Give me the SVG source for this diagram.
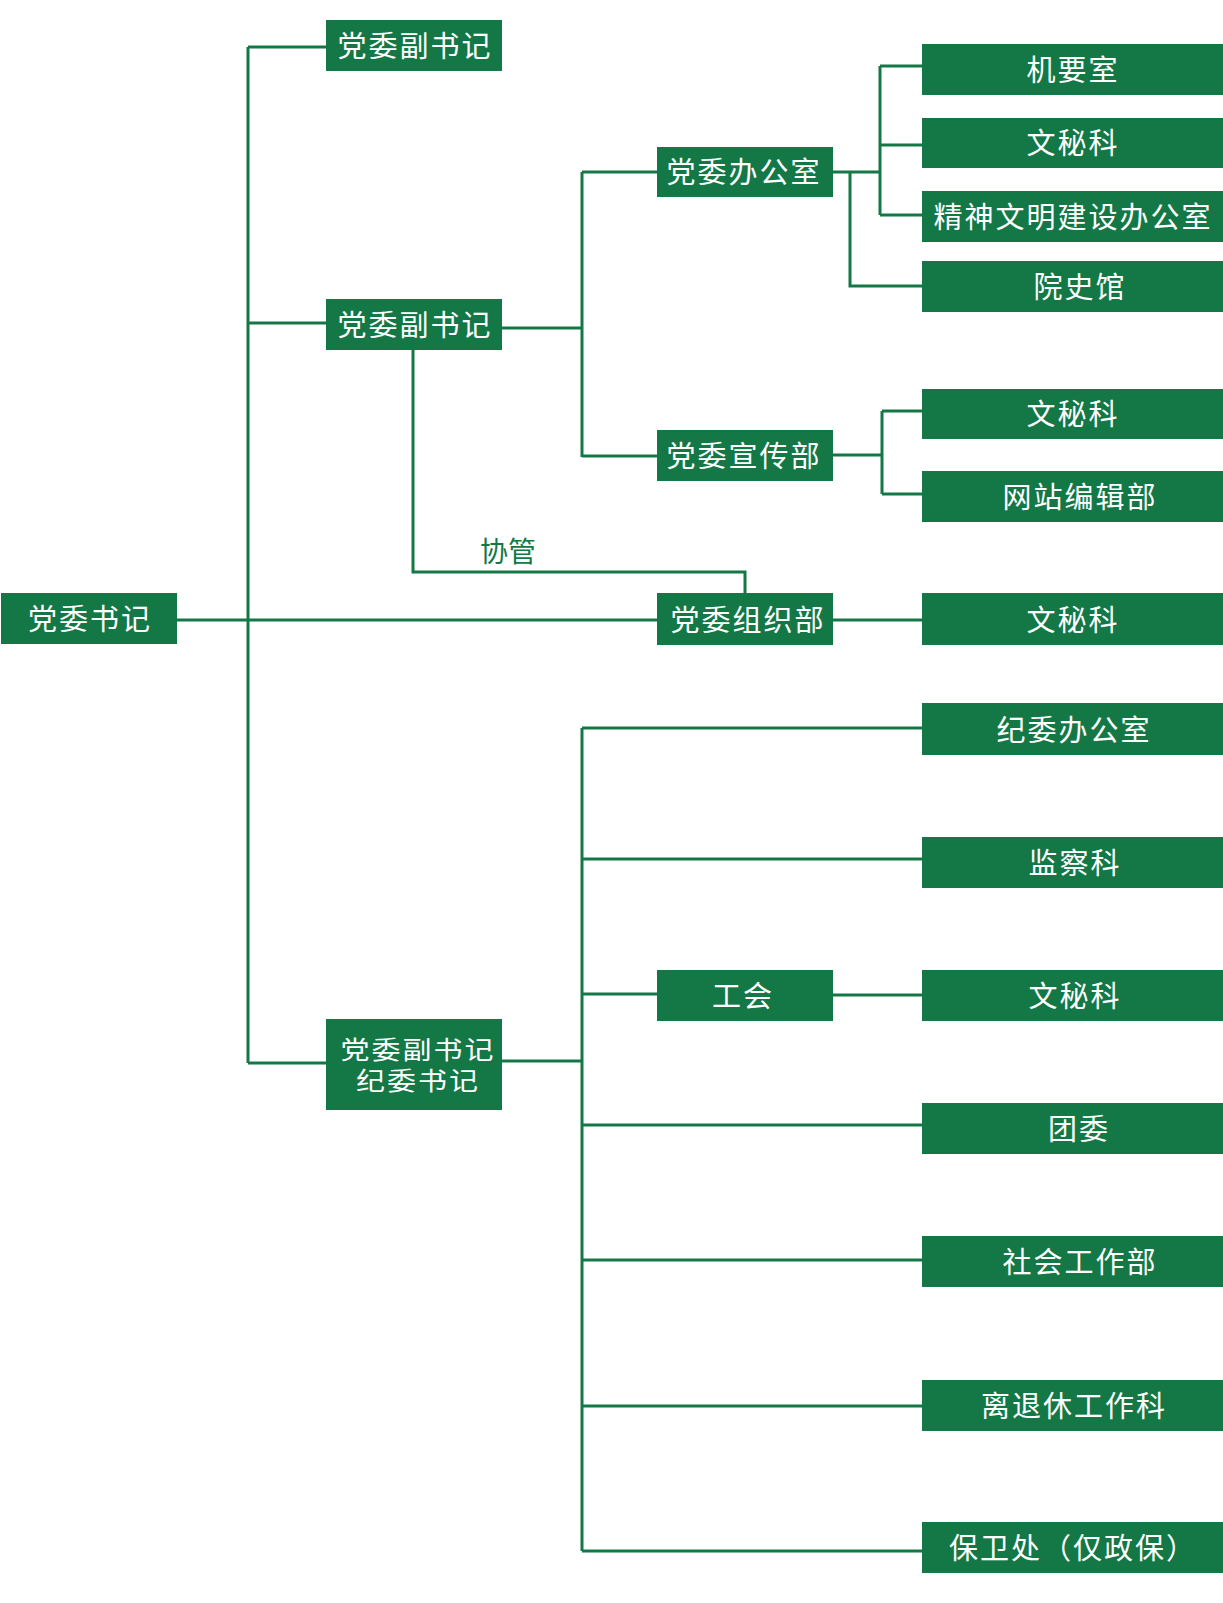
<svg xmlns="http://www.w3.org/2000/svg" width="1223" height="1603" viewBox="0 0 1223 1603">
<style>
.box{fill:#147846}
.t{fill:#ffffff;font-family:"Noto Sans CJK SC","Noto Sans",sans-serif;font-size:29px;letter-spacing:2px;text-anchor:middle}
.lbl{fill:#147846;font-family:"Noto Sans CJK SC","Noto Sans",sans-serif;font-size:28px;text-anchor:middle}
.c{fill:none;stroke:#147846;stroke-width:3}
</style>
<rect width="1223" height="1603" fill="#ffffff"/>
<g id="connectors" class="c">
<path d="M177 620 H657"/>
<path d="M248 47 V1063"/>
<path d="M248 47 H326"/>
<path d="M248 323 H326"/>
<path d="M248 1063 H326"/>
<path d="M502 328 H582"/>
<path d="M582 172 V457"/>
<path d="M582 172 H657"/>
<path d="M582 456 H657"/>
<path d="M833 172 H880"/>
<path d="M880 66 V215"/>
<path d="M880 66 H922"/>
<path d="M880 145 H922"/>
<path d="M880 215 H922"/>
<path d="M850 172 V286 H922"/>
<path d="M833 455 H882"/>
<path d="M882 411 V494"/>
<path d="M882 411 H922"/>
<path d="M882 494 H922"/>
<path d="M413 350 V572 H745 V593"/>
<path d="M833 620 H922"/>
<path d="M502 1061 H582"/>
<path d="M582 728 V1551"/>
<path d="M582 728 H922"/>
<path d="M582 859 H922"/>
<path d="M582 994 H657"/>
<path d="M833 995 H922"/>
<path d="M582 1125 H922"/>
<path d="M582 1260 H922"/>
<path d="M582 1406 H922"/>
<path d="M582 1551 H922"/>
</g>
<text class="lbl" x="508" y="562">协管</text>
<g id="n-shuji"><rect class="box" x="1" y="593" width="176" height="51"/><text class="t" x="90" y="630">党委书记</text></g>
<g id="n-fushuji1"><rect class="box" x="326" y="20" width="176" height="51"/><text class="t" x="415" y="57">党委副书记</text></g>
<g id="n-fushuji2"><rect class="box" x="326" y="299" width="176" height="51"/><text class="t" x="415" y="336">党委副书记</text></g>
<g id="n-fushuji3"><rect class="box" x="326" y="1019" width="176" height="91"/><g transform="translate(0,1058.5) scale(1,0.86)"><text class="t" x="418" y="0">党委副书记<tspan x="418" dy="36.6">纪委书记</tspan></text></g></g>
<g id="n-bangongshi"><rect class="box" x="657" y="147" width="176" height="50"/><text class="t" x="744" y="183">党委办公室</text></g>
<g id="n-xuanchuan"><rect class="box" x="657" y="430" width="176" height="51"/><text class="t" x="744" y="467">党委宣传部</text></g>
<g id="n-zuzhi"><rect class="box" x="657" y="593" width="176" height="52"/><text class="t" x="748" y="631">党委组织部</text></g>
<g id="n-gonghui"><rect class="box" x="657" y="970" width="176" height="51"/><text class="t" x="743" y="1007">工会</text></g>
<g id="n-jiyao"><rect class="box" x="922" y="44" width="301" height="51"/><text class="t" x="1073" y="81">机要室</text></g>
<g id="n-wenmi1"><rect class="box" x="922" y="118" width="301" height="50"/><text class="t" x="1073" y="154">文秘科</text></g>
<g id="n-jingshen"><rect class="box" x="922" y="191" width="301" height="51"/><text class="t" x="1073" y="228">精神文明建设办公室</text></g>
<g id="n-yuanshi"><rect class="box" x="922" y="261" width="301" height="51"/><text class="t" x="1080" y="298">院史馆</text></g>
<g id="n-wenmi2"><rect class="box" x="922" y="389" width="301" height="50"/><text class="t" x="1073" y="425">文秘科</text></g>
<g id="n-wangzhan"><rect class="box" x="922" y="471" width="301" height="51"/><text class="t" x="1080" y="508">网站编辑部</text></g>
<g id="n-wenmi3"><rect class="box" x="922" y="593" width="301" height="52"/><text class="t" x="1073" y="631">文秘科</text></g>
<g id="n-jiwei"><rect class="box" x="922" y="703" width="301" height="52"/><text class="t" x="1074" y="741">纪委办公室</text></g>
<g id="n-jiancha"><rect class="box" x="922" y="837" width="301" height="51"/><text class="t" x="1075" y="874">监察科</text></g>
<g id="n-wenmi4"><rect class="box" x="922" y="970" width="301" height="51"/><text class="t" x="1075" y="1007">文秘科</text></g>
<g id="n-tuanwei"><rect class="box" x="922" y="1103" width="301" height="51"/><text class="t" x="1079" y="1140">团委</text></g>
<g id="n-shehui"><rect class="box" x="922" y="1236" width="301" height="51"/><text class="t" x="1080" y="1273">社会工作部</text></g>
<g id="n-lituixiu"><rect class="box" x="922" y="1380" width="301" height="51"/><text class="t" x="1074" y="1417">离退休工作科</text></g>
<g id="n-baowei"><rect class="box" x="922" y="1522" width="301" height="51"/><text class="t" x="1073" y="1559">保卫处（仅政保）</text></g>
</svg>
